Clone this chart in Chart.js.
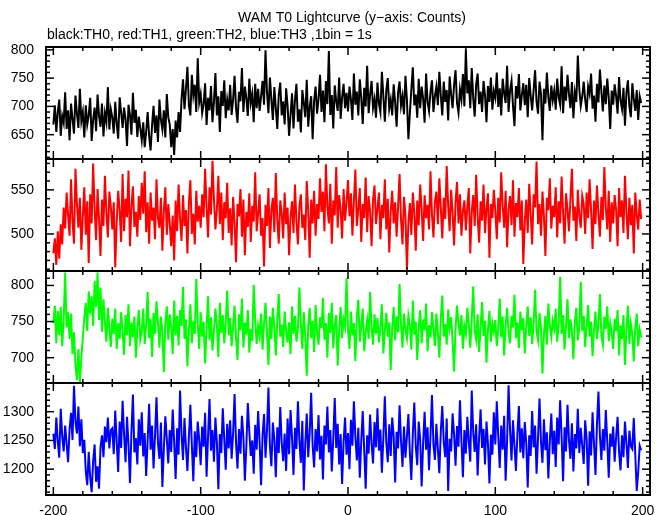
<!DOCTYPE html>
<html>
<head>
<meta charset="utf-8">
<script src="https://cdn.jsdelivr.net/npm/chart.js@4"></script>
<style>
  body { margin: 0; background: #fff; }
  canvas { display: block; }
</style>
</head>
<body>
<canvas id="wamLc" width="669" height="515"></canvas>
<script>
// WAM T0 lightcurve, 1 s bins from -200 to 199
var t0 = -200;

var th0 = [
  668, 702, 655, 690, 712, 648, 683, 671, 725, 660, 693, 640, 705, 678, 652, 719, 687, 662, 731, 674,
  690, 645, 702, 668, 684, 715, 639, 677, 698, 656, 721, 683, 664, 705, 647, 688, 672, 734, 659, 695,
  681, 652, 708, 669, 643, 716, 690, 662, 698, 677, 630, 703, 685, 650, 724, 671, 694, 646, 682, 661,
  640, 672, 628, 655, 690, 648, 622, 667, 701, 653, 684, 637, 712, 676, 659, 693, 645, 722, 681, 668,
  628, 660, 614, 675, 645, 690, 655, 712, 748, 695, 731, 770, 702, 684, 756, 719, 738, 690, 785, 707,
  722, 688, 704, 741, 667, 715, 693, 736, 672, 708, 759, 684, 718, 655, 727, 701, 746, 679, 712, 693,
  738, 685, 712, 754, 697, 671, 726, 709, 768, 690, 735, 714, 683, 749, 706, 722, 672, 740, 697, 731,
  692, 718, 745, 703, 799, 725, 688, 751, 712, 676, 734, 697, 660, 721, 742, 684, 709, 668, 732, 701,
  648, 685, 723, 661, 712, 740, 673, 695, 654, 729, 706, 681, 747, 664, 699, 718, 642, 710, 735, 687,
  713, 756, 690, 728, 672, 745, 704, 798, 685, 720, 661, 737, 709, 692, 751, 678, 716, 740, 697, 724,
  691, 735, 712, 676, 758, 703, 726, 684, 748, 715, 669, 733, 700, 772, 688, 721, 745, 697, 713, 680,
  742, 705, 690, 761, 718, 673, 729, 750, 696, 712, 684, 739, 707, 664, 725, 744, 701, 718, 686, 754,
  711, 642, 688, 730, 769, 702, 721, 680, 749, 697, 735, 714, 671, 758, 709, 692, 726, 746, 690, 718,
  735, 702, 761, 719, 684, 744, 708, 729, 675, 753, 721, 697, 738, 764, 706, 689, 730, 712, 757, 700,
  800, 723, 746, 697, 768, 715, 682, 739, 758, 704, 726, 690, 745, 719, 672, 736, 708, 751, 694, 727,
  715, 760, 699, 732, 684, 749, 723, 706, 772, 690, 728, 745, 701, 665, 736, 714, 757, 693, 720, 741,
  702, 738, 681, 750, 719, 693, 729, 764, 708, 687, 744, 722, 640, 731, 705, 760, 716, 692, 737, 711,
  728, 694, 749, 716, 703, 771, 688, 735, 710, 756, 722, 697, 743, 679, 725, 708, 790, 731, 701, 717,
  744, 712, 690, 735, 722, 758, 696, 719, 673, 740, 707, 765, 726, 691, 737, 704, 749, 715, 660, 728,
  703, 739, 718, 687, 752, 710, 695, 733, 666, 724, 746, 700, 681, 741, 713, 692, 729, 676, 718, 706
];

var th1 = [
  478, 495, 465, 503, 472, 511, 488, 530, 506, 547, 521, 498, 562, 515, 489, 574, 534, 507, 541, 482,
  520, 553, 499, 537, 467, 545, 512, 580, 528, 493, 551, 517, 475, 539, 509, 566, 524, 496, 548, 531,
  505, 536, 462, 514, 549, 527, 491, 568, 503, 540, 519, 572, 486, 531, 554, 508, 525, 497, 543, 516,
  558, 523, 571, 502, 536, 489, 547, 515, 530, 494, 562, 518, 507, 541, 481, 526, 553, 499, 534, 512,
  486, 521, 470, 538, 503, 556, 517, 492, 544, 509, 527, 478, 535, 561, 500, 523, 488, 549, 514, 532,
  507, 545, 519, 574, 531, 496, 553, 522, 583, 540, 505, 528, 566, 511, 547, 493, 536, 518, 558, 501,
  529, 487, 542, 512, 468, 534, 520, 551, 497, 539, 476, 525, 508, 546, 491, 532, 514, 570, 503, 523,
  545, 498, 518, 463, 533, 509, 552, 484, 527, 541, 502, 569, 516, 489, 538, 523, 495, 547, 511, 530,
  476, 519, 537, 501, 556, 514, 488, 531, 545, 507, 522, 493, 560, 526, 473, 539, 512, 549, 498, 534,
  517, 563, 525, 548, 503, 579, 531, 512, 557, 489, 538, 521, 576, 507, 544, 528, 495, 551, 515, 536,
  561, 520, 546, 498, 537, 573, 509, 528, 552, 491, 534, 518, 564, 502, 543, 526, 486, 539, 555, 511,
  529, 547, 494, 533, 518, 562, 505, 540, 479, 525, 549, 512, 536, 497, 531, 568, 516, 488, 542, 521,
  460, 513, 535, 499, 547, 524, 481, 538, 510, 556, 527, 492, 544, 518, 533, 505, 571, 522, 496, 537,
  548, 511, 563, 529, 495, 541, 517, 577, 532, 503, 550, 524, 487, 536, 559, 512, 545, 498, 526, 538,
  504, 531, 552, 478, 525, 544, 509, 567, 520, 490, 537, 515, 556, 501, 529, 546, 473, 534, 518, 550,
  526, 494, 541, 513, 570, 532, 507, 549, 485, 528, 543, 510, 561, 497, 535, 519, 552, 504, 538, 466,
  514, 539, 501, 557, 523, 488, 545, 530, 582, 511, 534, 498, 548, 520, 475, 541, 527, 563, 506, 532,
  519, 553, 496, 537, 512, 565, 524, 489, 546, 528, 503, 540, 574, 515, 531, 492, 550, 521, 507, 543,
  534, 500, 547, 518, 562, 527, 483, 538, 511, 555, 523, 497, 542, 516, 576, 530, 505, 549, 491, 536,
  512, 544, 527, 486, 552, 519, 538, 501, 566, 525, 494, 541, 510, 533, 478, 547, 522, 505, 539, 517
];

var th2 = [
  748, 772, 720, 765, 731, 770, 716, 752, 818, 742, 763, 726, 761, 705, 735, 690, 669, 712, 666, 701,
  728, 755, 776, 737, 792, 761, 785, 744, 806, 770, 818, 752, 797, 736, 781, 748, 722, 769, 741, 715,
  754, 733, 768, 712, 748, 726, 763, 737, 704, 759, 731, 774, 716, 749, 728, 757, 700, 742, 766, 725,
  736, 768, 719, 745, 791, 727, 754, 701, 762, 733, 778, 748, 714, 757, 736, 680, 749, 771, 725, 760,
  742, 705, 779, 731, 758, 717, 766, 744, 798, 726, 753, 688, 739, 774, 720, 751, 733, 809, 747, 712,
  763, 729, 750, 692, 741, 785, 724, 756, 710, 737, 768, 745, 701, 776, 734, 759, 720, 748, 793, 731,
  755, 716, 743, 772, 728, 697, 760, 738, 782, 714, 749, 732, 766, 707, 740, 723, 801, 752, 719, 744,
  730, 761, 711, 747, 776, 735, 690, 757, 726, 769, 742, 703, 752, 788, 729, 746, 715, 764, 737, 721,
  749, 705, 771, 733, 758, 722, 740, 797, 746, 712, 763, 730, 675, 744, 769, 727, 751, 708, 773, 736,
  718, 756, 741, 783, 725, 748, 700, 762, 734, 776, 713, 745, 759, 689, 738, 770, 727, 753, 743, 810,
  739, 712, 764, 731, 748, 695, 757, 780, 722, 744, 768, 709, 736, 752, 726, 791, 743, 718, 760, 733,
  755, 721, 742, 774, 706, 737, 762, 729, 749, 683, 741, 770, 724, 757, 735, 802, 746, 714, 761, 738,
  727, 758, 744, 711, 779, 732, 750, 697, 742, 766, 720, 753, 738, 775, 709, 745, 728, 763, 740, 716,
  761, 735, 700, 754, 786, 729, 747, 718, 767, 741, 756, 723, 681, 739, 772, 748, 731, 759, 712, 744,
  733, 769, 746, 714, 753, 799, 737, 725, 760, 708, 742, 777, 730, 751, 693, 739, 765, 722, 748, 736,
  752, 716, 740, 782, 728, 757, 703, 745, 769, 734, 720, 758, 742, 787, 727, 749, 713, 764, 738, 755,
  706, 743, 771, 730, 756, 719, 747, 794, 736, 724, 762, 741, 678, 733, 758, 718, 775, 745, 729, 751,
  740, 768, 722, 747, 812, 733, 759, 711, 745, 781, 727, 753, 736, 698, 750, 769, 724, 742, 805, 737,
  758, 715, 744, 773, 729, 750, 702, 739, 764, 726, 746, 788, 731, 718, 757, 740, 771, 723, 748, 735,
  712, 754, 737, 766, 703, 745, 726, 759, 690, 738, 772, 719, 747, 733, 695, 742, 761, 716, 739, 728
];

var th3 = [
  1262, 1235, 1290, 1248, 1220, 1305, 1258, 1231, 1276, 1244, 1212, 1269, 1298, 1251, 1345, 1283, 1262, 1309, 1240, 1287,
  1228, 1251, 1196, 1172, 1230, 1185, 1160, 1214, 1243, 1178, 1205, 1166, 1238, 1259, 1221, 1274, 1247, 1290, 1236, 1268,
  1271, 1226, 1302, 1248, 1195, 1283, 1237, 1319, 1260, 1212, 1291, 1243, 1176, 1265, 1330, 1229, 1254, 1208, 1287, 1241,
  1299, 1222, 1263, 1188, 1250, 1314, 1234, 1276, 1201, 1258, 1325, 1245, 1218, 1281, 1169, 1236, 1292, 1253, 1210, 1268,
  1230, 1304, 1247, 1183, 1271, 1225, 1337, 1260, 1216, 1289, 1238, 1197, 1256, 1312, 1242, 1179, 1266, 1221, 1283, 1251,
  1207, 1274, 1239, 1298, 1187, 1257, 1322, 1232, 1268, 1213, 1290, 1246, 1165, 1261, 1228, 1306, 1252, 1199, 1279, 1236,
  1285, 1218, 1262, 1331, 1245, 1201, 1270, 1227, 1293, 1256, 1180, 1240, 1315, 1266, 1223, 1250, 1192, 1277, 1234, 1301,
  1248, 1172, 1259, 1296, 1220, 1267, 1342, 1239, 1205, 1281, 1252, 1186, 1273, 1228, 1308, 1246, 1214, 1262, 1197, 1288,
  1226, 1303, 1255, 1190, 1272, 1235, 1318, 1249, 1211, 1284, 1163, 1244, 1297, 1221, 1264, 1333, 1240, 1203, 1270, 1231,
  1294, 1217, 1258, 1182, 1276, 1243, 1309, 1229, 1268, 1196, 1253, 1324, 1237, 1279, 1208, 1261, 1174, 1247, 1290, 1225,
  1263, 1200, 1286, 1241, 1318, 1257, 1215, 1272, 1185, 1249, 1301, 1233, 1166, 1259, 1227, 1295, 1244, 1210, 1282, 1238,
  1306, 1232, 1269, 1194, 1254, 1327, 1246, 1212, 1278, 1223, 1290, 1258, 1177, 1265, 1236, 1311, 1249, 1204, 1274, 1220,
  1257, 1296, 1228, 1181, 1262, 1316, 1240, 1207, 1283, 1251, 1170, 1245, 1300, 1234, 1273, 1198, 1258, 1329, 1242, 1216,
  1279, 1235, 1193, 1266, 1310, 1247, 1221, 1288, 1162, 1253, 1231, 1297, 1261, 1206, 1275, 1239, 1320, 1250, 1186, 1268,
  1227, 1291, 1248, 1213, 1337, 1264, 1230, 1278, 1189, 1255, 1304, 1237, 1270, 1208, 1283, 1244, 1175, 1260, 1225, 1299,
  1243, 1318, 1257, 1202, 1276, 1234, 1293, 1180, 1250, 1346, 1268, 1215, 1285, 1241, 1197, 1262, 1310, 1229, 1271, 1219,
  1282, 1245, 1168, 1259, 1223, 1301, 1238, 1276, 1192, 1254, 1323, 1247, 1211, 1287, 1233, 1264, 1184, 1249, 1297, 1226,
  1267, 1204, 1290, 1243, 1320, 1256, 1179, 1273, 1231, 1312, 1250, 1218, 1280, 1196, 1261, 1236, 1305, 1228, 1272, 1241,
  1209, 1285, 1252, 1171, 1266, 1224, 1299, 1244, 1190, 1278, 1335, 1258, 1216, 1270, 1232, 1303, 1248, 1185, 1262, 1239,
  1274, 1213, 1256, 1291, 1230, 1198, 1259, 1221, 1283, 1246, 1202, 1267, 1240, 1235, 1289, 1226, 1162, 1195, 1241, 1233
];

// tick labels
var xTicks = [-200, -100, 0, 100, 200];
var yTicks0 = [650, 700, 750, 800];
var yTicks1 = [500, 550];
var yTicks2 = [700, 750, 800];
var yTicks3 = [1200, 1250, 1300];

var xRange = [-205, 205];
var yRange0 = [607, 805];
var yRange1 = [458, 585];
var yRange2 = [665, 820];
var yRange3 = [1155, 1350];

var panelIds = ['y0', 'y1', 'y2', 'y3'];
var series = [th0, th1, th2, th3];
var colors = ['#000000', '#ff0000', '#00ff00', '#0000ff'];

Chart.defaults.font.family = '"Liberation Sans", Arial, Helvetica, sans-serif';
Chart.defaults.font.size = 14;
Chart.defaults.color = '#000';

function toPoints(arr) {
  return arr.map(function (v, i) { return { x: t0 + i, y: v }; });
}

function yAxis(range, ticks) {
  return {
    type: 'linear',
    position: 'left',
    stack: 'lc',
    stackWeight: 1,
    min: range[0],
    max: range[1],
    grid: { display: false },
    border: { display: false },
    ticks: { padding: 4, autoSkip: false, color: '#000', callback: function (v) { return String(v); } },
    afterBuildTicks: function (s) { s.ticks = ticks.map(function (v) { return { value: v }; }); },
    afterFit: function (s) { s.width = 46; }
  };
}

// frame around every panel with inward ticks on all four sides + titles
var framePlugin = {
  id: 'frames',
  afterDraw: function (chart) {
    var ctx = chart.ctx, a = chart.chartArea, xs = chart.scales.x;
    function seg(x1, y1, x2, y2) { ctx.beginPath(); ctx.moveTo(x1, y1); ctx.lineTo(x2, y2); ctx.stroke(); }
    ctx.save();
    ctx.strokeStyle = '#000';
    panelIds.forEach(function (id) {
      var s = chart.scales[id];
      ctx.lineWidth = 2;
      ctx.strokeRect(a.left, s.top, a.right - a.left, s.bottom - s.top);
      ctx.lineWidth = 1.5;
      for (var v = Math.ceil(s.min / 10) * 10; v <= s.max; v += 10) {
        var py = s.getPixelForValue(v);
        var len = v % 50 === 0 ? 8 : 4;
        seg(a.left, py, a.left + len, py);
        seg(a.right, py, a.right - len, py);
      }
      for (var t = -200; t <= 200; t += 20) {
        var px = xs.getPixelForValue(t);
        var l2 = t % 100 === 0 ? 8 : 4;
        seg(px, s.top, px, s.top + l2);
        seg(px, s.bottom, px, s.bottom - l2);
      }
    });
    ctx.fillStyle = '#000';
    ctx.font = '14px "Liberation Sans", Arial, sans-serif';
    ctx.textBaseline = 'middle';
    ctx.textAlign = 'center';
    ctx.fillText('WAM T0 Lightcurve (y\u2212axis: Counts)', 352, 18);
    ctx.textAlign = 'left';
    ctx.fillText('black:TH0, red:TH1, green:TH2, blue:TH3 ,1bin = 1s', 47, 35);
    ctx.restore();
  }
};

// stacked axes are laid out bottom-up, so the lowest panel goes first
var scales = {
  x: {
    type: 'linear',
    min: xRange[0],
    max: xRange[1],
    grid: { display: false },
    border: { display: false },
    ticks: { padding: 0, color: '#000', maxRotation: 0, autoSkip: false },
    afterBuildTicks: function (s) { s.ticks = xTicks.map(function (v) { return { value: v }; }); },
    afterFit: function (s) { s.height = 20; }
  }
};
scales.y3 = yAxis(yRange3, yTicks3);
scales.y2 = yAxis(yRange2, yTicks2);
scales.y1 = yAxis(yRange1, yTicks1);
scales.y0 = yAxis(yRange0, yTicks0);

var lc = new Chart(document.getElementById('wamLc'), {
  type: 'line',
  data: {
    datasets: series.map(function (arr, k) {
      return {
        label: 'TH' + k,
        data: toPoints(arr),
        yAxisID: panelIds[k],
        borderColor: colors[k],
        borderWidth: 2,
        pointRadius: 0,
        tension: 0,
        fill: false
      };
    })
  },
  options: {
    responsive: false,
    animation: false,
    layout: { padding: { top: 47, right: 19, left: 0, bottom: 0 } },
    plugins: { legend: { display: false }, tooltip: { enabled: false } },
    scales: scales
  },
  plugins: [framePlugin]
});
</script>
</body>
</html>
